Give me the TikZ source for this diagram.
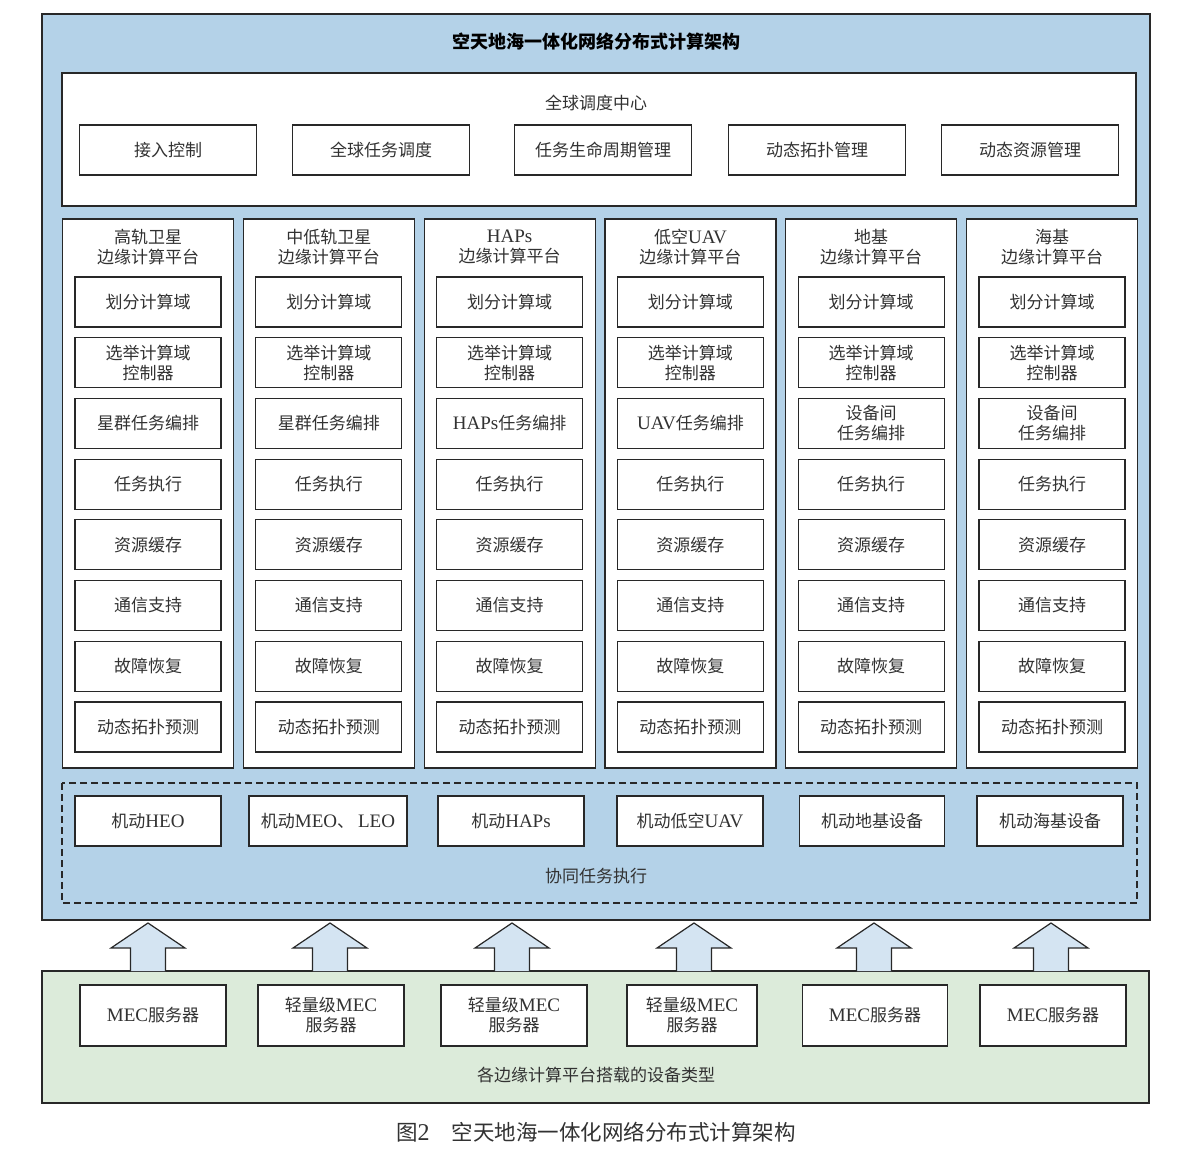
\documentclass[tikz,border=0pt]{standalone}
\usepackage{fontspec}
\setmainfont{Noto Sans CJK SC}
\newfontfamily\lat[Scale=1.12]{Liberation Serif}
\usetikzlibrary{calc}
\definecolor{skyblue}{RGB}{180,210,232}
\definecolor{seagreen}{RGB}{220,235,218}
\definecolor{arrowblue}{RGB}{212,228,242}
\definecolor{linegray}{RGB}{40,40,40}
\definecolor{textgray}{RGB}{50,50,50}

\begin{document}
\begin{tikzpicture}[x=1pt,y=-1pt,
    txt/.style={text=textgray,align=center,inner sep=0pt,font=\fontsize{17}{20}\selectfont},
    box/.style={txt,draw=linegray,line width=1.2pt,fill=white,minimum height=50pt},
    panel/.style={draw=linegray,line width=1.2pt,fill=white},
    uparrow/.style={draw=linegray,line width=1.2pt,fill=arrowblue,line join=miter}]
    \pgfmathsetmacro{\hw}{37}   % half width of arrow head
    \pgfmathsetmacro{\sw}{17.5} % half width of arrow shaft
    \useasboundingbox (0,0) rectangle (1194,1169);
    \fill[white] (0,0) rectangle (1194,1169);
    % architecture frame
    \draw[fill=skyblue,draw=linegray,line width=1.2pt] (42,14) rectangle (1150,920);
    \node[txt,font=\fontsize{18}{20}\selectfont\bfseries,text=black] (title) at (596,42) {空天地海一体化网络分布式计算架构};
    % global scheduling center
    \draw[panel] (62,73) rectangle (1136,206);
    \node[txt] (gsc) at (596,103) {全球调度中心};
    \node[box,minimum width=177pt] (acc) at (168,150) {接入控制};
    \node[box,minimum width=177pt] (gts) at (381,150) {全球任务调度};
    \node[box,minimum width=177pt] (life) at (603,150) {任务生命周期管理};
    \node[box,minimum width=177pt] (topo) at (817,150) {动态拓扑管理};
    \node[box,minimum width=177pt] (res) at (1030,150) {动态资源管理};
    % edge computing platforms
    \foreach \i/\ttl/\orch in {1/{高轨卫星\\边缘计算平台}/星群任务编排,
        2/{中低轨卫星\\边缘计算平台}/星群任务编排,
        3/{{\lat HAPs}\\边缘计算平台}/{{\lat HAPs}任务编排},
        4/{低空{\lat UAV}\\边缘计算平台}/{{\lat UAV}任务编排},
        5/{地基\\边缘计算平台}/{设备间\\任务编排},
        6/{海基\\边缘计算平台}/{设备间\\任务编排}} {
      \pgfmathsetmacro{\cx}{148+180.8*(\i-1)}
      \draw[panel] (\cx-85.5,219) rectangle (\cx+85.5,768);
      \node[txt] (plat\i) at (\cx,247) {\ttl};
      \foreach \j/\fn in {1/划分计算域, 2/{选举计算域\\控制器}, 3/\orch, 4/任务执行,
          5/资源缓存, 6/通信支持, 7/故障恢复, 8/动态拓扑预测} {
        \pgfmathsetmacro{\ry}{302+60.7*(\j-1)}
        \node[box,minimum width=146pt] (p\i-\j) at (\cx,\ry) {\fn};
      }
    }
    % cooperative task execution
    \draw[draw=linegray,line width=1.2pt,dashed,dash pattern=on 7pt off 4pt] (62,783) rectangle (1137,903);
    \node[box,minimum width=146pt] (dev1) at (148,821) {机动{\lat HEO}};
    \node[box,minimum width=158pt] (dev2) at (328,821) {机动{\lat MEO}、 {\lat LEO}};
    \node[box,minimum width=146pt] (dev3) at (511,821) {机动{\lat HAPs}};
    \node[box,minimum width=146pt] (dev4) at (690,821) {机动低空{\lat UAV}};
    \node[box,minimum width=145pt] (dev5) at (872,821) {机动地基设备};
    \node[box,minimum width=146pt] (dev6) at (1050,821) {机动海基设备};
    \node[txt] (coop) at (596,876) {协同任务执行};
    % equipment carried by the platforms
    \draw[fill=seagreen,draw=linegray,line width=1.2pt] (42,971) rectangle (1149,1103);
    \foreach \ax in {148,330,512,694,874,1051} {
      \draw[uparrow] (\ax-\sw,971) -- (\ax-\sw,948) -- (\ax-\hw,948) -- (\ax,923)
        -- (\ax+\hw,948) -- (\ax+\sw,948) -- (\ax+\sw,971);
    }
    \node[box,minimum width=146pt,minimum height=61pt] (mec1) at (153,1015.5) {{\lat MEC}服务器};
    \node[box,minimum width=146pt,minimum height=61pt] (mec2) at (331,1015.5) {轻量级{\lat MEC}\\服务器};
    \node[box,minimum width=146pt,minimum height=61pt] (mec3) at (514,1015.5) {轻量级{\lat MEC}\\服务器};
    \node[box,minimum width=130pt,minimum height=61pt] (mec4) at (692,1015.5) {轻量级{\lat MEC}\\服务器};
    \node[box,minimum width=145pt,minimum height=61pt] (mec5) at (875,1015.5) {{\lat MEC}服务器};
    \node[box,minimum width=146pt,minimum height=61pt] (mec6) at (1053,1015.5) {{\lat MEC}服务器};
    \node[txt] (carry) at (596,1075) {各边缘计算平台搭载的设备类型};
    \node[txt,font=\fontsize{21.5}{24}\selectfont] (caption) at (596,1132) {图{\lat 2}\hspace{22pt}空天地海一体化网络分布式计算架构};
\end{tikzpicture}
\end{document}
